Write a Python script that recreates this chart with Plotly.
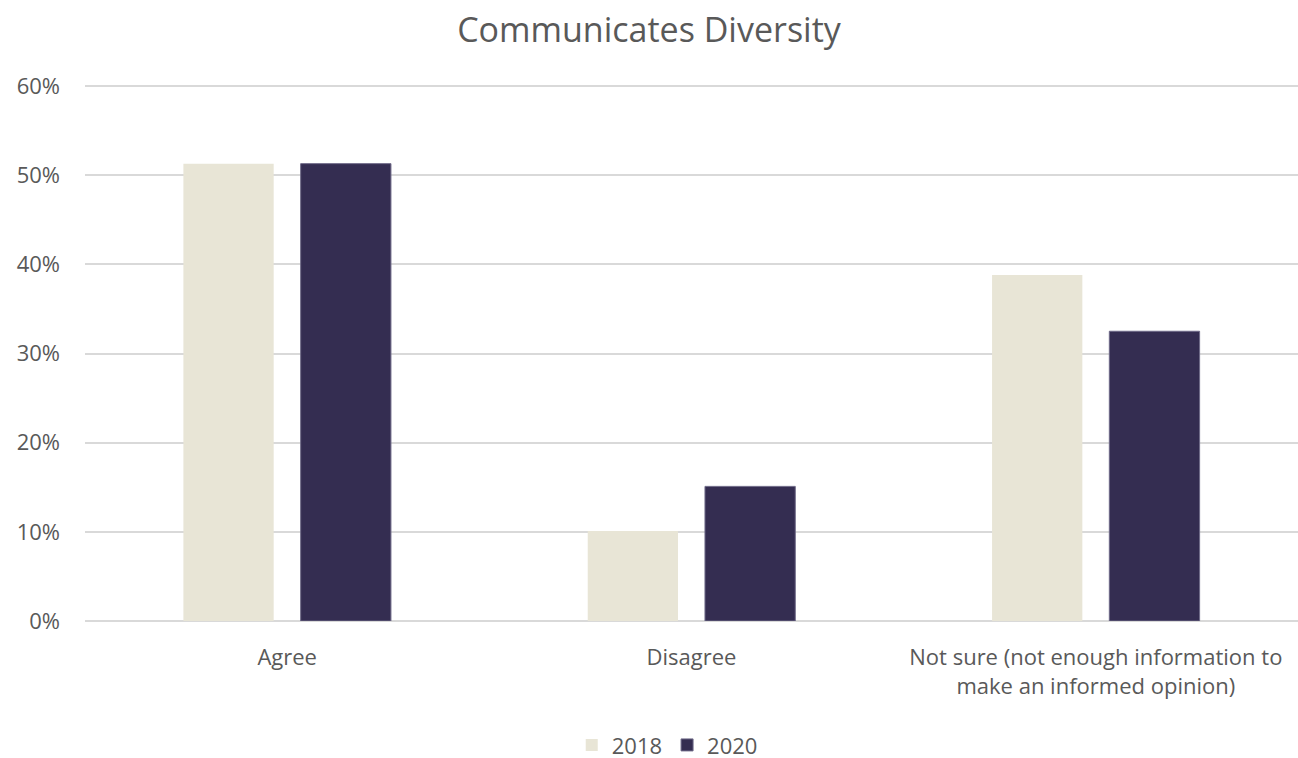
import plotly.graph_objects as go

categories = ["Agree", "Disagree", "Not sure (not enough information to<br>make an informed opinion)"]
values_2018 = [0.513, 0.101, 0.388]
values_2020 = [0.513, 0.151, 0.325]
tick_vals = [0, 0.1, 0.2, 0.3, 0.4, 0.5, 0.6]
tick_text = ["0%", "10%", "20%", "30%", "40%", "50%", "60%"]

FONT = "Open Sans"
TEXT = "#595959"

fig = go.Figure()
fig.add_trace(go.Bar(name="2018", x=categories, y=values_2018,
                     marker=dict(color="#E8E5D6", line=dict(width=0))))
fig.add_trace(go.Bar(name="2020", x=categories, y=values_2020,
                     marker=dict(color="#342D51", line=dict(color="#6F6A88", width=1))))

fig.update_layout(
    width=1298, height=758,
    margin=dict(l=85, r=0, t=85, b=137, autoexpand=False),
    paper_bgcolor="white", plot_bgcolor="white",
    barmode="group", bargap=0.42, bargroupgap=0.23,
    title=dict(text="Communicates Diversity", x=0.5, xanchor="center",
               y=0.96, yanchor="middle",
               font=dict(family=FONT, size=34, color=TEXT)),
    font=dict(family=FONT, size=22, color=TEXT),
    showlegend=True,
    legend=dict(orientation="h", x=0.48, xanchor="center",
                yref="container", y=0.017, yanchor="middle",
                font=dict(family=FONT, size=22, color=TEXT), itemwidth=30,
                traceorder="normal"),
)
fig.update_yaxes(range=[0, 0.6012], tickvals=tick_vals, ticktext=tick_text,
                 showgrid=True, gridcolor="#D9D9D9", gridwidth=1.5,
                 zeroline=True, zerolinecolor="#D9D9D9", zerolinewidth=1.5,
                 showline=False, ticks="", ticklabelstandoff=24, automargin=False,
                 tickfont=dict(family=FONT, size=22, color=TEXT))
fig.update_xaxes(showline=False, ticks="", showgrid=False, ticklabelstandoff=21,
                 automargin=False,
                 tickfont=dict(family=FONT, size=22, color=TEXT))

fig.write_html("out.html")
